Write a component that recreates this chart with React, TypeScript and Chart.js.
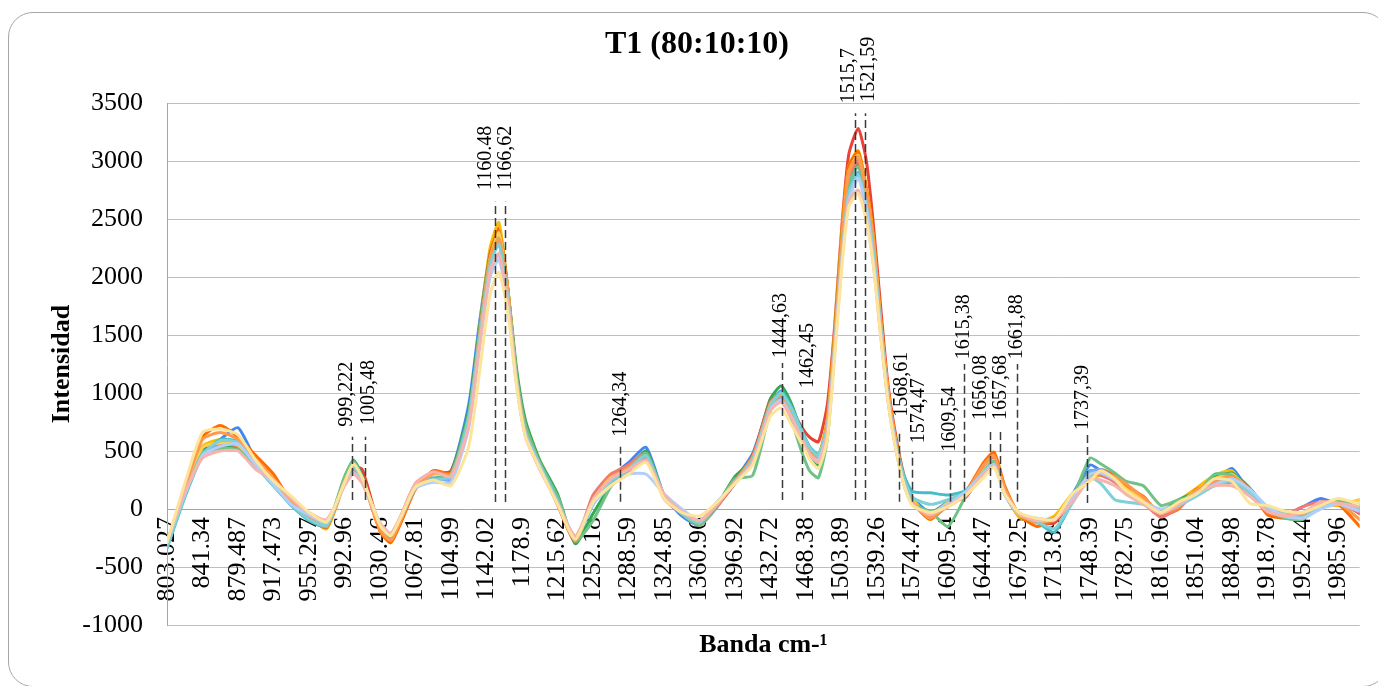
import React, { useEffect, useRef } from 'react';
import { Chart, registerables } from 'chart.js';

Chart.register(...registerables);

const chartTitle = 'T1 (80:10:10)';
const xTitle = 'Banda cm-\u00B9';
const yTitle = 'Intensidad';

const tickLabels = [
  '803.027', '841.34', '879.487', '917.473', '955.297', '992.96', '1030.46', '1067.81', '1104.99', '1142.02',
  '1178.9', '1215.62', '1252.18', '1288.59', '1324.85', '1360.96', '1396.92', '1432.72', '1468.38', '1503.89',
  '1539.26', '1574.47', '1609.54', '1644.47', '1679.25', '1713.89', '1748.39', '1782.75', '1816.96', '1851.04',
  '1884.98', '1918.78', '1952.44', '1985.96',
];

const wavenumbers = [
  803.0, 822.2, 841.3, 860.4, 879.5, 898.5, 917.5, 936.4, 955.3, 974.1,
  993.0, 1002.3, 1011.7, 1030.5, 1041.7, 1052.9, 1067.8, 1086.4, 1105.0, 1123.5,
  1134.6, 1145.7, 1154.9, 1164.1, 1173.4, 1182.6, 1197.3, 1215.6, 1233.9, 1252.2,
  1270.4, 1288.6, 1306.7, 1324.9, 1342.9, 1361.0, 1378.9, 1396.9, 1414.8, 1432.7,
  1443.4, 1454.1, 1463.0, 1471.9, 1480.8, 1489.7, 1496.8, 1503.9, 1511.0, 1520.5,
  1528.7, 1535.7, 1542.8, 1549.8, 1556.9, 1565.7, 1574.5, 1592.0, 1609.5, 1627.0,
  1644.5, 1654.9, 1665.3, 1679.3, 1696.6, 1713.9, 1731.1, 1748.4, 1758.7, 1772.4,
  1782.8, 1799.9, 1817.0, 1834.0, 1851.0, 1868.0, 1885.0, 1901.9, 1918.8, 1935.6,
  1952.4, 1969.2, 1986.0, 2006.0,
];

const serie01 = [
  -320, 120, 480, 600, 700, 420, 240, 40, -90, -150,
  230, 380, 270, -170, -250, -60, 190, 250, 320, 900,
  1600, 2200, 2350, 1850, 1150, 680, 400, 60, -260, 60,
  270, 400, 530, 120, -60, -140, 20, 250, 480, 920,
  1000, 850, 680, 500, 440, 720, 1450, 2250, 2850, 2980,
  2700, 2300, 1650, 1050, 620, 280, 100, -30, 40, 120,
  340, 420, 130, -60, -100, -110, 120, 380, 330, 270,
  180, 60, -40, 40, 170, 250, 350, 140, -10, -50,
  20, 90, 40, 20,
];
const serie02 = [
  -300, 150, 500, 580, 560, 400, 230, 60, -70, -150,
  240, 360, 340, -170, -260, -100, 180, 300, 330, 820,
  1520, 2200, 2420, 1900, 1150, 700, 380, 40, -270, 90,
  280, 330, 470, 120, -20, -100, 30, 220, 450, 950,
  1000, 860, 720, 620, 580, 900, 1550, 2400, 3050, 3280,
  3000, 2450, 1750, 1100, 680, 300, 80, -40, 60, 100,
  340, 420, 140, -40, -110, -120, 90, 300, 330, 270,
  200, 60, -60, 60, 160, 220, 260, 150, -30, -60,
  -80, 30, 60, -40,
];
const serie03 = [
  -300, 160, 540, 600, 560, 380, 210, 80, -60, -170,
  220, 350, 280, -190, -290, -100, 180, 320, 300, 780,
  1550, 2250, 2470, 1900, 1150, 700, 400, 60, -260, 70,
  300, 360, 480, 110, -40, -140, 30, 230, 430, 930,
  1000, 840, 690, 520, 460, 780, 1500, 2350, 2950, 3090,
  2780, 2350, 1650, 1050, 640, 260, 90, -60, 40, 140,
  330, 450, 150, -70, -110, -60, 130, 250, 290, 290,
  200, 80, -60, 70, 180, 290, 330, 130, 0, -60,
  -50, 40, 30, 80,
];
const serie04 = [
  -310, 130, 500, 540, 520, 380, 200, 50, -80, -150,
  270, 420, 280, -160, -270, -90, 180, 260, 320, 850,
  1550, 2200, 2380, 1900, 1200, 760, 420, 130, -300, -40,
  200, 350, 500, 110, -30, -110, 40, 280, 430, 950,
  1060, 900, 680, 480, 380, 680, 1450, 2300, 2850, 3000,
  2680, 2250, 1600, 1000, 600, 240, 60, -30, 60, 120,
  340, 400, 140, -40, -100, -90, 110, 330, 300, 260,
  190, 70, -20, 80, 150, 270, 310, 180, 0, -70,
  -60, 30, 70, 10,
];
const serie05 = [
  -290, 180, 620, 720, 620, 460, 300, 60, -80, -160,
  240, 360, 260, -190, -290, -110, 170, 330, 310, 760,
  1500, 2200, 2400, 1900, 1100, 680, 380, 40, -280, 80,
  270, 380, 450, 90, -30, -120, 30, 230, 460, 880,
  980, 840, 660, 510, 450, 750, 1450, 2300, 2950, 3080,
  2750, 2300, 1600, 1050, 650, 270, 60, -90, 40, 150,
  400, 490, 200, -50, -150, -90, 110, 290, 340, 290,
  200, 110, -50, 0, 170, 220, 290, 170, -50, -80,
  -40, 60, 40, -150,
];
const serie06 = [
  -340, 100, 460, 600, 580, 380, 200, 30, -100, -150,
  230, 370, 250, -140, -230, -60, 190, 260, 290, 800,
  1500, 2150, 2300, 1850, 1100, 660, 380, 80, -270, 40,
  240, 350, 480, 110, -40, -130, 50, 230, 440, 900,
  1020, 880, 700, 540, 470, 720, 1400, 2200, 2750, 2900,
  2650, 2250, 1600, 1000, 620, 300, 150, 140, 120, 160,
  330, 400, 130, -40, -110, -200, 60, 330, 310, 250,
  160, 80, -40, 50, 120, 230, 260, 130, -10, -60,
  -80, 30, 40, -20,
];
const serie07 = [
  -290, 140, 480, 560, 560, 390, 220, 50, -60, -130,
  240, 340, 240, -150, -230, -80, 190, 270, 250, 760,
  1420, 2050, 2200, 1780, 1080, 640, 370, 50, -240, 60,
  230, 340, 430, 120, -20, -110, 60, 220, 400, 880,
  960, 800, 640, 460, 420, 680, 1350, 2150, 2700, 2900,
  2600, 2200, 1550, 980, 600, 230, 50, -40, 60, 140,
  330, 400, 130, -50, -80, -90, 80, 320, 340, 260,
  160, 80, -20, 40, 130, 220, 300, 160, 10, -40,
  -40, 20, 40, 10,
];
const serie08 = [
  -300, 170, 530, 560, 540, 380, 230, 80, -50, -140,
  240, 350, 260, -170, -250, -50, 220, 320, 300, 780,
  1480, 2150, 2300, 1850, 1100, 640, 360, 40, -270, 120,
  300, 380, 480, 90, -40, -110, 20, 240, 440, 920,
  980, 830, 660, 500, 440, 700, 1380, 2200, 2850, 3000,
  2700, 2250, 1600, 1000, 600, 240, 50, -60, 20, 120,
  340, 430, 150, -40, -90, -100, 90, 300, 290, 230,
  140, 50, -70, 10, 140, 200, 230, 130, -30, -50,
  20, 60, 50, -30,
];
const serie09 = [
  -300, 150, 530, 570, 550, 390, 220, 60, -70, -140,
  250, 370, 260, -170, -250, -70, 200, 300, 290, 780,
  1480, 2150, 2380, 1880, 1120, 680, 390, 60, -260, 80,
  270, 350, 460, 100, -30, -120, 40, 240, 420, 900,
  990, 830, 670, 500, 450, 730, 1400, 2250, 2900, 3050,
  2720, 2280, 1620, 1040, 620, 260, 70, -50, 50, 110,
  330, 420, 140, -50, -100, -80, 110, 290, 320, 260,
  180, 80, -40, 50, 160, 260, 300, 150, -10, -50,
  -40, 40, 60, 70,
];
const serie10 = [
  -310, 120, 480, 520, 510, 370, 200, 40, -80, -140,
  280, 410, 270, -150, -260, -80, 180, 260, 300, 820,
  1500, 2150, 2330, 1850, 1150, 720, 400, 110, -280, -100,
  190, 340, 480, 120, -40, -140, 30, 260, 290, 850,
  1000, 760, 520, 330, 270, 600, 1350, 2200, 2800, 2950,
  2650, 2200, 1560, 980, 580, 220, 40, -20, -150, 110,
  320, 410, 140, -40, -90, -80, 90, 440, 390, 310,
  240, 200, 30, 80, 120, 300, 290, 150, -10, -80,
  -90, 40, 60, 40,
];
const serie11 = [
  -290, 170, 600, 660, 600, 430, 260, 70, -70, -150,
  240, 360, 260, -180, -270, -90, 190, 310, 300, 770,
  1480, 2150, 2330, 1870, 1100, 670, 380, 50, -270, 70,
  260, 360, 450, 100, -30, -120, 40, 240, 450, 890,
  980, 840, 670, 510, 440, 740, 1420, 2250, 2900, 3040,
  2720, 2280, 1600, 1030, 630, 260, 60, -80, 40, 140,
  380, 460, 180, -40, -120, -80, 100, 290, 310, 280,
  220, 100, -30, 20, 160, 240, 280, 160, -20, -60,
  -50, 50, 50, -90,
];
const serie12 = [
  -330, 110, 470, 590, 570, 370, 200, 40, -90, -140,
  230, 360, 250, -130, -220, -60, 180, 250, 280, 790,
  1460, 2100, 2280, 1830, 1100, 660, 380, 70, -250, 40,
  240, 340, 460, 110, -40, -120, 50, 230, 430, 890,
  1000, 860, 690, 530, 460, 710, 1380, 2150, 2720, 2880,
  2620, 2220, 1580, 990, 610, 270, 100, 40, 80, 150,
  320, 390, 130, -40, -110, -170, 50, 270, 220, 80,
  60, 40, -30, 30, 110, 200, 240, 140, -10, -70,
  -70, 20, 40, 0,
];
const serie13 = [
  -280, 130, 460, 540, 560, 380, 210, 40, -50, -120,
  210, 310, 230, -120, -210, -60, 180, 230, 230, 700,
  1380, 2000, 2150, 1750, 1060, 630, 360, 50, -230, 40,
  200, 300, 300, 130, 0, -100, 60, 230, 400, 860,
  940, 790, 630, 470, 420, 660, 1330, 2100, 2650, 2850,
  2580, 2150, 1520, 960, 580, 220, 40, -40, 40, 150,
  310, 380, 120, -40, -90, -90, 90, 300, 310, 250,
  150, 60, 0, 40, 130, 210, 260, 170, 20, -60,
  -80, 0, 40, -20,
];
const serie14 = [
  -280, 140, 440, 500, 500, 340, 250, 90, -30, -90,
  200, 300, 220, -120, -210, -50, 220, 320, 280, 720,
  1400, 2050, 2200, 1780, 1080, 620, 340, 50, -230, 80,
  260, 340, 420, 130, -20, -100, 40, 230, 400, 850,
  920, 780, 620, 470, 400, 660, 1330, 2100, 2650, 2750,
  2500, 2100, 1500, 950, 560, 220, 40, -50, 30, 120,
  300, 370, 140, -40, -100, -90, 60, 260, 250, 200,
  130, 40, -40, 40, 140, 200, 200, 110, -20, -60,
  -30, 60, 50, 20,
];
const serie15 = [
  -290, 220, 660, 690, 640, 420, 240, 110, -30, -110,
  230, 390, 270, -140, -230, -60, 190, 250, 200, 540,
  1170, 1850, 2040, 1700, 1050, 620, 350, 40, -260, 60,
  200, 300, 400, 90, -30, -60, 60, 220, 380, 800,
  870, 720, 580, 430, 350, 600, 1280, 2050, 2600, 2720,
  2480, 2100, 1500, 950, 560, 220, 30, -30, 20, 120,
  270, 360, 130, -30, -80, -90, 130, 240, 330, 260,
  160, 60, -30, 60, 130, 260, 240, 50, 30, -20,
  -30, 30, 90, 40,
];

const seriesValues = [
  serie01, serie02, serie03, serie04, serie05, serie06, serie07, serie08,
  serie09, serie10, serie11, serie12, serie13, serie14, serie15,
];
const seriesColors = [
  '#4285F4', '#EA4335', '#FBBC04', '#34A853', '#FF6D01', '#46BDC6', '#7BAAF7', '#F07B72',
  '#FCD04F', '#71C287', '#FF994D', '#7ED1D7', '#B3CEFB', '#F7B4AE', '#FDE49B',
];

// peak call-outs: text, and [line x, line top, line bottom, text x, text bottom] in axis units
const peakTexts = [
  '999,222', '1005,48', '1160.48', '1166,62', '1264,34', '1444,63', '1462,45', '1515,7', '1521,59',
  '1568,61', '1574,47', '1609,54', '1615,38', '1656,08', '1657,68', '1661,88', '1737,39',
];
const peakLayout = [
  [5.22, 623, 78, 5.06, 709],
  [5.57, 623, 78, 5.68, 724],
  [9.24, 2649, 60, 8.98, 2750],
  [9.52, 2649, 60, 9.55, 2750],
  [12.76, 537, 63, 12.79, 623],
  [17.33, 1259, 78, 17.28, 1302],
  [17.89, 940, 78, 18.04, 1043],
  [19.37, 3411, 78, 19.2, 3497],
  [19.66, 3411, 78, 19.77, 3511],
  [20.61, 655, 63, 20.71, 796],
  [20.99, 494, 63, 21.18, 566],
  [22.05, 422, 63, 22.05, 494],
  [22.45, 1250, 63, 22.45, 1290],
  [23.17, 698, 78, 22.92, 767],
  [23.46, 698, 78, 23.48, 767],
  [23.94, 1250, 63, 23.94, 1290],
  [25.91, 638, 52, 25.79, 681],
];

const tickValues = tickLabels.map(Number);
function wnToPos(w: number): number {
  const n = tickValues.length;
  for (let i = 0; i < n - 1; i++) {
    if (w <= tickValues[i + 1]) {
      return i + (w - tickValues[i]) / (tickValues[i + 1] - tickValues[i]);
    }
  }
  const d = tickValues[n - 1] - tickValues[n - 2];
  return n - 1 + (w - tickValues[n - 1]) / d;
}

const FONT = '"Liberation Serif", "Times New Roman", serif';

const peakPlugin = {
  id: 'peakCallouts',
  afterDatasetsDraw(chart: any) {
    const { ctx } = chart;
    const xs = chart.scales.x;
    const ys = chart.scales.y;
    ctx.save();
    ctx.strokeStyle = '#3a3a3a';
    ctx.lineWidth = 1.5;
    ctx.setLineDash([8, 4]);
    peakLayout.forEach((p) => {
      const px = Math.round(xs.getPixelForValue(p[0])) + 0.5;
      ctx.beginPath();
      ctx.moveTo(px, ys.getPixelForValue(p[2]));
      ctx.lineTo(px, ys.getPixelForValue(p[1]));
      ctx.stroke();
    });
    ctx.setLineDash([]);
    ctx.fillStyle = '#000';
    ctx.font = `20px ${FONT}`;
    ctx.textAlign = 'left';
    ctx.textBaseline = 'middle';
    peakTexts.forEach((t, i) => {
      const p = peakLayout[i];
      ctx.save();
      ctx.translate(xs.getPixelForValue(p[3]), ys.getPixelForValue(p[4]));
      ctx.rotate(-Math.PI / 2);
      ctx.fillText(t, 0, 0);
      ctx.restore();
    });
    ctx.restore();
  },
};

export default function App() {
  const ref = useRef<HTMLCanvasElement | null>(null);

  useEffect(() => {
    if (!ref.current) return;
    const n = seriesValues.length;
    const chart = new Chart(ref.current, {
      type: 'line',
      data: {
        datasets: seriesValues.map((vals, i) => ({
          label: 'Serie ' + (i + 1),
          data: vals.map((v, j) => ({ x: wnToPos(wavenumbers[j]), y: v })),
          borderColor: seriesColors[i],
          backgroundColor: seriesColors[i],
          borderWidth: 3,
          pointRadius: 0,
          tension: 0.2,
          borderJoinStyle: 'round' as const,
          borderCapStyle: 'round' as const,
          order: n - i,
        })),
      },
      options: {
        animation: false,
        responsive: false,
        maintainAspectRatio: false,
        layout: { padding: { left: 18, right: 2, top: 0, bottom: 0 } },
        plugins: {
          legend: { display: false },
          tooltip: { enabled: false },
          title: {
            display: true,
            text: chartTitle,
            color: '#000',
            font: { family: FONT, size: 32, weight: 'bold', lineHeight: 1.2 },
            padding: { top: 25.8, bottom: 38.8 },
          },
          subtitle: {
            display: true,
            position: 'bottom',
            fullSize: false,
            text: xTitle,
            color: '#000',
            font: { family: FONT, size: 26, weight: 'bold', lineHeight: 1.2 },
            padding: { top: 4.4, bottom: 25.4 },
          },
        },
        scales: {
          x: {
            type: 'linear',
            position: { y: 0 } as any,
            min: wnToPos(wavenumbers[0]),
            max: wnToPos(wavenumbers[wavenumbers.length - 1]),
            grid: { display: false, drawTicks: false },
            border: { display: true, color: '#a6a6a6', width: 1 },
            afterBuildTicks: (s: any) => {
              s.ticks = tickLabels.map((_, i) => ({ value: i }));
            },
            ticks: {
              autoSkip: false,
              maxRotation: 90,
              minRotation: 90,
              padding: 8,
              color: '#000',
              font: { family: FONT, size: 26 },
              callback: (_v: any, i: number) => tickLabels[i],
            },
          },
          y: {
            min: -1000,
            max: 3500,
            afterFit: (s: any) => {
              s.width = 149;
            },
            grid: { color: '#bfbfbf', lineWidth: 1, drawTicks: false },
            border: { display: true, color: '#a6a6a6', width: 1 },
            ticks: {
              stepSize: 500,
              padding: 24,
              color: '#000',
              font: { family: FONT, size: 26 },
              callback: (v: any) => String(v),
            },
            title: {
              display: true,
              text: yTitle,
              color: '#000',
              font: { family: FONT, size: 26, weight: 'bold', lineHeight: 1.2 },
              padding: { top: 28.4, bottom: 0 },
            },
          },
        },
      },
      plugins: [peakPlugin],
    } as any);
    return () => chart.destroy();
  }, []);

  return (
    <div style={{ position: 'fixed', left: 0, top: 0, width: 1378, height: 686, overflow: 'hidden', background: '#fff' }}>
      <div
        style={{
          position: 'absolute',
          left: 8,
          top: 12,
          width: 1380,
          height: 675,
          border: '1px solid #a6a6a6',
          borderRadius: 25,
          boxSizing: 'border-box',
        }}
      />
      <canvas ref={ref} width={1378} height={686} style={{ position: 'absolute', left: 0, top: 0, width: 1378, height: 686 }} />
    </div>
  );
}
